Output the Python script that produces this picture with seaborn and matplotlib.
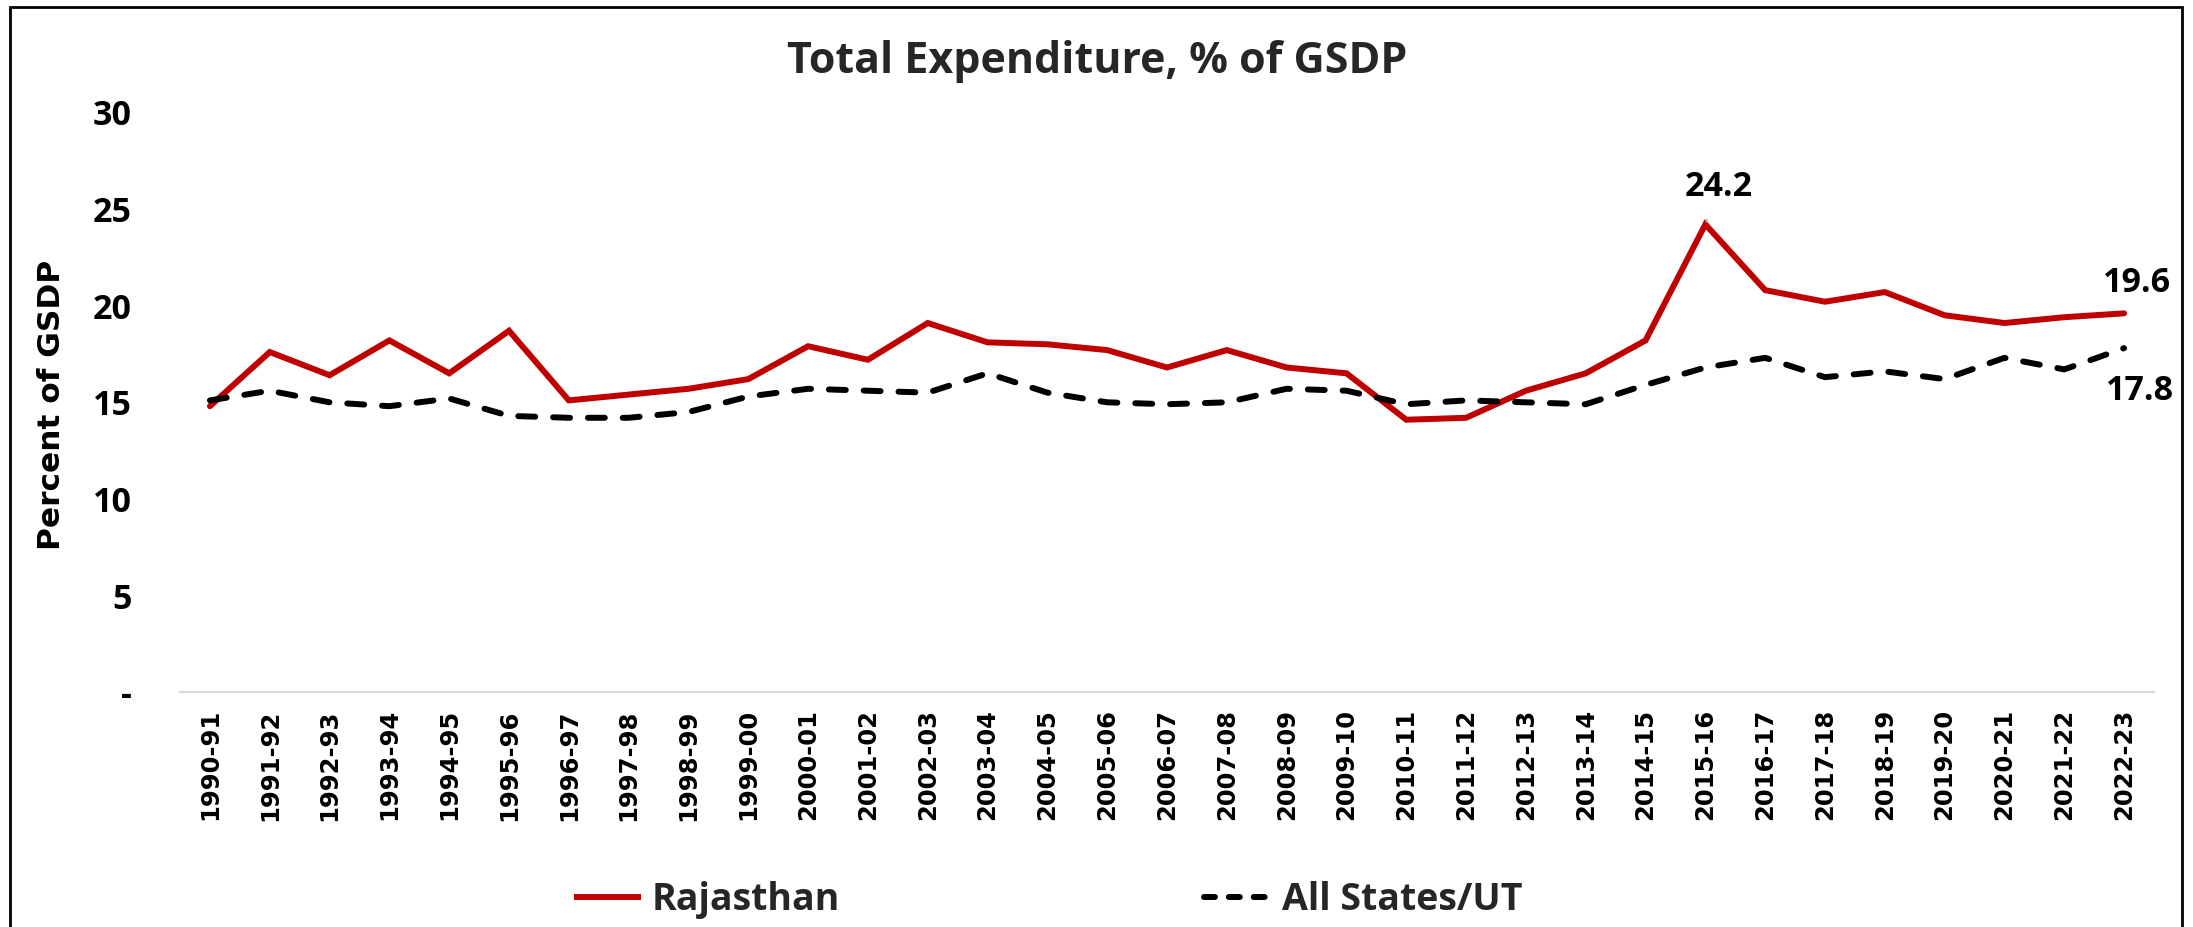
import matplotlib
matplotlib.use("Agg")
import matplotlib.pyplot as plt
import seaborn as sns
import pandas as pd
from matplotlib.patches import Rectangle
from matplotlib.lines import Line2D

years = ["1990-91", "1991-92", "1992-93", "1993-94", "1994-95", "1995-96", "1996-97",
         "1997-98", "1998-99", "1999-00", "2000-01", "2001-02", "2002-03", "2003-04",
         "2004-05", "2005-06", "2006-07", "2007-08", "2008-09", "2009-10", "2010-11",
         "2011-12", "2012-13", "2013-14", "2014-15", "2015-16", "2016-17", "2017-18",
         "2018-19", "2019-20", "2020-21", "2021-22", "2022-23"]

rajasthan = [14.8, 17.6, 16.4, 18.2, 16.5, 18.7, 15.1, 15.4, 15.7, 16.2, 17.9, 17.2,
             19.1, 18.1, 18.0, 17.7, 16.8, 17.7, 16.8, 16.5, 14.1, 14.2, 15.6, 16.5,
             18.2, 24.2, 20.8, 20.2, 20.7, 19.5, 19.1, 19.4, 19.6]

all_states = [15.1, 15.6, 15.0, 14.8, 15.2, 14.3, 14.2, 14.2, 14.5, 15.3, 15.7, 15.6,
              15.5, 16.5, 15.5, 15.0, 14.9, 15.0, 15.7, 15.6, 14.9, 15.1, 15.0, 14.9,
              15.9, 16.8, 17.3, 16.3, 16.6, 16.2, 17.3, 16.7, 17.8]

y_ticks = [0, 5, 10, 15, 20, 25, 30]
y_tick_labels = ["-", "5", "10", "15", "20", "25", "30"]

sns.set_theme(style="white")
plt.rcParams["font.family"] = ["DejaVu Sans"]

RED = "#C00000"
NUM_FONT = ["Open Sans", "DejaVu Sans"]
LW = 4.3
DASH = (0, (2.83, 3.0))

df = pd.DataFrame({"year": years, "Rajasthan": rajasthan, "All States/UT": all_states})
df["pos"] = range(len(years))

fig = plt.figure(figsize=(21.93, 9.27), dpi=100)
ax = fig.add_axes([0.0821, 0.253, 0.9001, 0.626])

sns.lineplot(data=df, x="pos", y="Rajasthan", ax=ax, color=RED, linewidth=LW,
             sort=False, solid_capstyle="round", solid_joinstyle="miter")
sns.lineplot(data=df, x="pos", y="All States/UT", ax=ax, color="black", linewidth=LW,
             sort=False, linestyle=DASH, dash_capstyle="round")

ax.set_xlim(-0.5, len(years) - 0.5)
ax.set_ylim(0, 30)
ax.set_xticks(df["pos"])
ax.set_xticklabels(years, rotation=90, fontsize=17.5, fontweight="bold", color="black")
ax.set_yticks(y_ticks)
ax.set_yticklabels(y_tick_labels, fontsize=24.5, fontweight="bold", family=NUM_FONT,
                   color="black")
ax.tick_params(axis="x", length=0, pad=12)
ax.tick_params(axis="y", length=0, pad=34.5)

for side in ["top", "right", "left"]:
    ax.spines[side].set_visible(False)
ax.spines["bottom"].set_color("#d9d9d9")
ax.spines["bottom"].set_linewidth(1.6)
ax.grid(False)

ax.set_xlabel("")
ax.set_ylabel("")
fig.text(0.0235, 0.563, "Percent of GSDP", rotation=90, ha="center", va="center",
         fontsize=22.5, fontweight="bold", color="black")

# value callouts
label_kw = dict(ha="center", va="center", fontsize=24.5, fontweight="bold",
                family=NUM_FONT, color="black", annotation_clip=False,
                textcoords="offset points")
peak = rajasthan.index(max(rajasthan))
ax.annotate(f"{rajasthan[peak]:.1f}", xy=(peak, rajasthan[peak]), xytext=(9.4, 26.6),
            arrowprops=dict(arrowstyle="-", color="#a6a6a6", lw=1.2,
                            shrinkA=9, shrinkB=2), **label_kw)
last = len(years) - 1
ax.annotate(f"{rajasthan[last]:.1f}", xy=(last, rajasthan[last]), xytext=(9.4, 21.6),
            **label_kw)
ax.annotate(f"{all_states[last]:.1f}", xy=(last, all_states[last]), xytext=(11.5, -31),
            **label_kw)

fig.text(0.5002, 1 - 73 / 927, "Total Expenditure, % of GSDP", ha="center",
         va="baseline", fontsize=31, fontweight="bold", family=NUM_FONT)

handles = [Line2D([], [], color=RED, lw=LW, solid_capstyle="butt"),
           Line2D([], [], color="black", lw=LW, linestyle=(0, (1.83, 2.33)),
                  dash_capstyle="round")]
fig.legend(handles, ["Rajasthan", "All States/UT"], loc="center",
           bbox_to_anchor=(0.478, 0.029), ncol=2, frameon=False,
           prop={"family": NUM_FONT, "weight": "bold", "size": 27},
           handlelength=1.79, handletextpad=0.3, columnspacing=9.7)

fig.patches.append(Rectangle((10 / 2193, -0.05), (2182 - 10) / 2193, 1 - 7 / 927 + 0.05,
                             transform=fig.transFigure, fill=False, edgecolor="black",
                             linewidth=2))

fig.savefig("out.png", dpi=100)
